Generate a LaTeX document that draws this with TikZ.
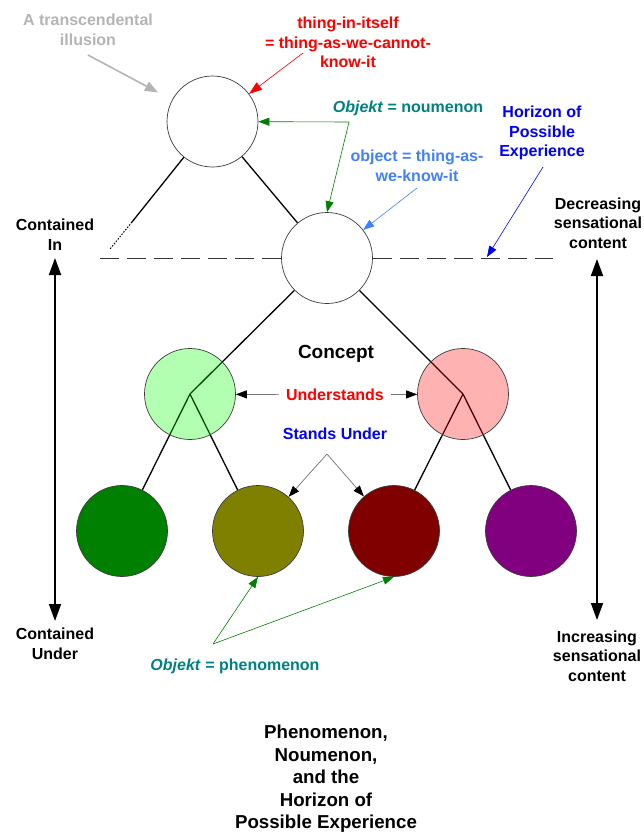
\documentclass[tikz,border=0pt]{standalone}
\usepackage{fontspec}
\setmainfont{Liberation Sans}
\usetikzlibrary{arrows.meta,backgrounds}
\definecolor{illgray}{RGB}{180,180,180}
\definecolor{kteal}{RGB}{0,128,128}
\definecolor{kgreen}{RGB}{0,128,0}
\definecolor{kblue}{RGB}{0,0,255}
\definecolor{klblue}{RGB}{64,128,255}
\definecolor{kolive}{RGB}{128,128,0}
\definecolor{kmaroon}{RGB}{128,0,0}
\definecolor{kpurple}{RGB}{128,0,128}
\definecolor{rim}{RGB}{60,60,60}

\begin{document}
\begin{tikzpicture}[x=1pt,y=-1pt,
  lab/.style={font=\bfseries\fontsize{16}{19.5}\selectfont, align=center, inner sep=0pt},
  ball/.style={circle, minimum size=91pt, inner sep=0pt, draw=rim, line width=0.7pt},
  treeline/.style={line width=1.3pt, black},
  pointer/.style={line width=0.6pt, -{Triangle[length=11pt,width=8pt]}},
  graypointer/.style={line width=0.7pt, draw=black!55, -{Triangle[length=11pt,width=8pt,black]}},
  bigarrow/.style={line width=1.8pt, {Triangle[length=17pt,width=12pt]}-{Triangle[length=17pt,width=12pt]}},
  horizon/.style={line width=1pt, black!80, dash pattern=on 19pt off 8pt},
]
\useasboundingbox (0,0) rectangle (644,836);

% circles of the concept tree
\node[ball, fill=white] (A) at (212.5,121.5) {};
\node[ball, fill=white] (B) at (327,258) {};
\node[ball, fill=green, fill opacity=0.3] (C) at (190,394) {};
\node[ball, fill=red, fill opacity=0.3] (D) at (463,394) {};
\node[ball, fill=kgreen] (E1) at (122,531) {};
\node[ball, fill=kolive] (E2) at (258,531) {};
\node[ball, fill=kmaroon] (E3) at (394,531) {};
\node[ball, fill=kpurple] (E4) at (531,531) {};

% free ends of lines and pointers
\coordinate (l1) at (132,222);
\coordinate (l2) at (110,249);
\coordinate (hl) at (100,258);
\coordinate (hr) at (553,258);
\coordinate (hz) at (487,257);
\coordinate (nk) at (349,122);
\coordinate (su) at (327,454);
\coordinate (ph) at (213,644);
\coordinate (t0) at (88,55);
\coordinate (r0) at (303,53);
\coordinate (b0) at (417,188);
\coordinate (h0) at (543,167);
\coordinate (upL) at (55,258);
\coordinate (dnL) at (55,621);
\coordinate (upR) at (597,259);
\coordinate (dnR) at (597,620);

% tree branches behind the circles
\begin{scope}[on background layer]
\draw[treeline] (A) -- (B);
\draw[treeline] (A) -- (l1);
\draw[line width=1pt, dash pattern=on 1.5pt off 1.5pt] (l1) -- (l2);
\draw[treeline] (B) -- (C.center);
\draw[treeline] (B) -- (D.center);
\draw[treeline] (C.center) -- (E1);
\draw[treeline] (C.center) -- (E2);
\draw[treeline] (D.center) -- (E3);
\draw[treeline] (D.center) -- (E4);
\end{scope}

% horizon of possible experience
\draw[horizon] (hl) -- (B);
\draw[horizon] (B) -- (hr);

% labels
\node[lab, text=illgray] (illus) at (88,30) {A transcendental\\illusion};
\node[lab, text=red] (thing) at (348,42.5) {thing-in-itself\\= thing-as-we-cannot-\\know-it};
\node[lab, text=kteal] (noum) at (408,108) {\textit{Objekt} = noumenon};
\node[lab, text=klblue] (obj) at (417,166) {object = thing-as-\\we-know-it};
\node[lab, text=kblue] (hor) at (542,133) {Horizon of\\Possible\\Experience};
\node[lab] (decr) at (598,223) {Decreasing\\sensational\\content};
\node[lab] (cin) at (55,234.5) {Contained\\In};
\node[lab, font=\bfseries\fontsize{19}{22}\selectfont] (concept) at (336,354) {Concept};
\node[lab, text=red, inner xsep=7pt] (und) at (335,395) {Understands};
\node[lab, text=kblue] (stands) at (335,434) {Stands Under};
\node[lab, text=kteal] (phen) at (235,666) {\textit{Objekt} = phenomenon};
\node[lab] (cun) at (55,644) {Contained\\Under};
\node[lab] (incr) at (597,656) {Increasing\\sensational\\content};
\node[lab, font=\bfseries\fontsize{18.7}{22.5}\selectfont] (title) at (326,779)
  {Phenomenon,\\Noumenon,\\and the\\Horizon of\\Possible Experience};

% pointers
\draw[draw=illgray, line width=1.6pt, shorten >=16pt,
  -{Triangle[length=13pt,width=10pt]}] (t0) -- (A);
\draw[pointer, draw=red, -{Triangle[length=13pt,width=9pt]}] (r0) -- (A);
\draw[pointer, draw=kgreen] (nk) -- (A);
\draw[pointer, draw=kgreen] (nk) -- (B.north);
\draw[pointer, draw=klblue] (b0) -- (B);
\draw[pointer, draw=kblue] (h0) -- (hz);
\draw[graypointer] (und) -- (C);
\draw[graypointer] (und) -- (D);
\draw[graypointer] (su) -- (E2);
\draw[graypointer] (su) -- (E3);
\draw[pointer, draw=kgreen] (ph) -- (E2.south);
\draw[pointer, draw=kgreen] (ph) -- (E3.south);

% containment / sensation axes
\draw[bigarrow] (upL) -- (dnL);
\draw[bigarrow] (upR) -- (dnR);
\end{tikzpicture}
\end{document}
